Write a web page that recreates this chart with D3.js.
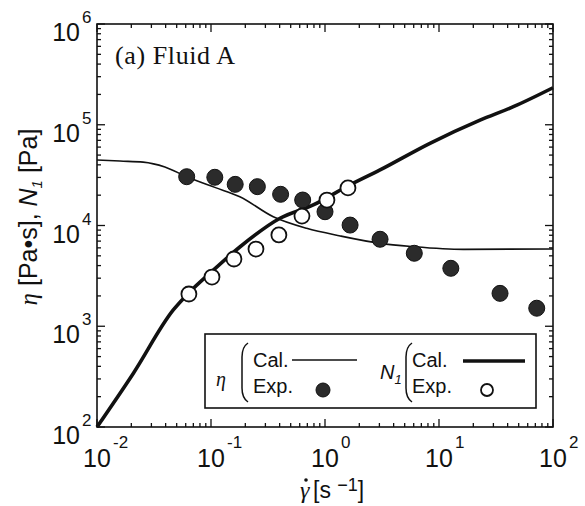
<!DOCTYPE html>
<html>
<head>
<meta charset="utf-8">
<script src="https://cdn.jsdelivr.net/npm/d3@7/dist/d3.min.js"></script>
<style>
  body { margin: 0; background: #fff; }
  svg { display: block; font-family: "Liberation Sans", Arial, sans-serif; }
</style>
</head>
<body>
<svg id="chart"></svg>
<script>
// shear rate [1/s] and values
const etaCalX = [0.01, 0.0159, 0.0254, 0.0394, 0.0612, 0.108, 0.179, 0.352, 0.69, 1.36, 3.04, 5.96, 16.3, 100];
const etaCalY = [44700, 43600, 42600, 38100, 30500, 23900, 19300, 12200, 9370, 7870, 6650, 6170, 5800, 5850];

const n1CalX = [0.01, 0.0208, 0.0467, 0.0654, 0.098, 0.179, 0.403, 0.789, 1.55, 3.04, 8.33, 22.9, 44.9, 100];
const n1CalY = [100, 340, 1450, 2200, 3360, 6120, 11800, 16000, 24300, 35600, 65400, 111000, 151000, 233000];

const etaExpX = [0.0612, 0.108, 0.163, 0.255, 0.408, 0.637, 1.0, 1.66, 3.04, 6.07, 12.7, 34.3, 72];
const etaExpY = [30500, 30100, 25600, 24300, 20400, 17900, 13700, 10100, 7300, 5300, 3760, 2120, 1510];

const n1ExpX = [0.064, 0.102, 0.159, 0.248, 0.394, 0.628, 1.04, 1.59];
const n1ExpY = [2090, 3080, 4650, 5840, 8060, 12400, 17900, 23600];

const xTickExp = [-2, -1, 0, 1, 2];
const yTickExp = [2, 3, 4, 5, 6];

const width = 585, height = 506;
const margin = { left: 97, top: 24, right: 32, bottom: 79 };

const svg = d3.select("#chart").attr("width", width).attr("height", height);

const x = d3.scaleLog().domain([0.01, 100]).range([margin.left, width - margin.right]);
const y = d3.scaleLog().domain([100, 1e6]).range([height - margin.bottom, margin.top]);

const x0 = x.range()[0], x1 = x.range()[1];
const y0 = y.range()[0], y1 = y.range()[1];

// frame
svg.append("rect")
    .attr("x", x0).attr("y", y1)
    .attr("width", x1 - x0).attr("height", y0 - y1)
    .attr("fill", "none").attr("stroke", "#111").attr("stroke-width", 1.6);

// ticks on all four sides, pointing in
const isMajor = v => Math.abs(Math.log10(v) - Math.round(Math.log10(v))) < 1e-6;
const ticks = svg.append("g").attr("stroke", "#111").attr("stroke-width", 1.3);

x.ticks().forEach(v => {
    const len = isMajor(v) ? 8 : 4;
    ticks.append("line").attr("x1", x(v)).attr("x2", x(v)).attr("y1", y0).attr("y2", y0 - len);
    ticks.append("line").attr("x1", x(v)).attr("x2", x(v)).attr("y1", y1).attr("y2", y1 + len);
});
y.ticks().forEach(v => {
    const len = isMajor(v) ? 8 : 4;
    ticks.append("line").attr("y1", y(v)).attr("y2", y(v)).attr("x1", x0).attr("x2", x0 + len);
    ticks.append("line").attr("y1", y(v)).attr("y2", y(v)).attr("x1", x1).attr("x2", x1 - len);
});

// tick labels
yTickExp.forEach(e => {
    svg.append("text").attr("x", 80).attr("y", y(Math.pow(10, e)) + 17)
        .attr("text-anchor", "end").attr("font-size", 25).attr("fill", "#111").text("10");
    svg.append("text").attr("x", 82).attr("y", y(Math.pow(10, e)) - 1)
        .attr("font-size", 17).attr("fill", "#111").text(e);
});
xTickExp.forEach(e => {
    const px = x(Math.pow(10, e));
    svg.append("text").attr("x", px).attr("y", 467)
        .attr("text-anchor", "middle").attr("font-size", 25).attr("fill", "#111").text("10");
    svg.append("text").attr("x", px + 16).attr("y", 448)
        .attr("font-size", 17).attr("fill", "#111").text(e < 0 ? "-" + (-e) : e);
});

// axis titles
const yTitle = svg.append("text")
    .attr("transform", "translate(37,217) rotate(-90)")
    .attr("text-anchor", "middle").attr("font-size", 25).attr("fill", "#111");
yTitle.append("tspan").attr("font-family", "Liberation Serif, serif").attr("font-style", "italic").text("η");
yTitle.append("tspan").text(" [Pa•s], ");
yTitle.append("tspan").attr("font-style", "italic").text("N");
yTitle.append("tspan").attr("font-style", "italic").attr("font-size", 15).attr("dy", 5).text("1");
yTitle.append("tspan").attr("dy", -5).text(" [Pa]");

svg.append("text").attr("x", 300).attr("y", 498)
    .attr("font-family", "Liberation Serif, serif").attr("font-style", "italic")
    .attr("font-size", 24).attr("fill", "#111").text("γ");
svg.append("circle").attr("cx", 306).attr("cy", 480).attr("r", 1.8).attr("fill", "#111");
const xTitle = svg.append("text").attr("x", 313).attr("y", 498)
    .attr("font-size", 23).attr("fill", "#111");
xTitle.append("tspan").text("[s ");
xTitle.append("tspan").attr("font-size", 18).attr("dy", -7).text("−1");
xTitle.append("tspan").attr("dy", 7).text("]");

svg.append("text").attr("x", 115).attr("y", 64)
    .attr("font-family", "Liberation Serif, serif").attr("font-size", 26)
    .attr("letter-spacing", 0.6).attr("fill", "#111")
    .text("(a) Fluid A");

// calculated curves
const line = d3.line().x(d => x(d[0])).y(d => y(d[1])).curve(d3.curveMonotoneX);

svg.append("path")
    .datum(d3.zip(etaCalX, etaCalY))
    .attr("d", line).attr("fill", "none").attr("stroke", "#111").attr("stroke-width", 1.6);

svg.append("path")
    .datum(d3.zip(n1CalX, n1CalY))
    .attr("d", line).attr("fill", "none").attr("stroke", "#111").attr("stroke-width", 3.6);

// experimental points
svg.append("g").selectAll("circle")
    .data(d3.zip(etaExpX, etaExpY))
    .join("circle")
    .attr("cx", d => x(d[0])).attr("cy", d => y(d[1])).attr("r", 8)
    .attr("fill", "#2b2b2b").attr("stroke", "#111").attr("stroke-width", 1);

svg.append("g").selectAll("circle")
    .data(d3.zip(n1ExpX, n1ExpY))
    .join("circle")
    .attr("cx", d => x(d[0])).attr("cy", d => y(d[1])).attr("r", 7.5)
    .attr("fill", "#fff").attr("stroke", "#111").attr("stroke-width", 1.8);

// legend
const lg = svg.append("g");
lg.append("rect").attr("x", 205).attr("y", 334).attr("width", 331).attr("height", 74)
    .attr("fill", "#fff").attr("stroke", "#111").attr("stroke-width", 1.6);

const brace = (bx, top, bot) =>
    `M${bx + 6},${top} Q${bx},${top + 4} ${bx},${top + 14} L${bx},${bot - 14} Q${bx},${bot - 4} ${bx + 6},${bot}`;

lg.append("text").attr("x", 216).attr("y", 386)
    .attr("font-family", "Liberation Serif, serif").attr("font-style", "italic")
    .attr("font-size", 20).attr("fill", "#111").text("η");
lg.append("path").attr("d", brace(242, 343, 402)).attr("fill", "none").attr("stroke", "#111").attr("stroke-width", 1.5);
lg.append("text").attr("x", 253).attr("y", 367).attr("font-size", 20).attr("fill", "#111").text("Cal.");
lg.append("text").attr("x", 253).attr("y", 393).attr("font-size", 20).attr("fill", "#111").text("Exp.");
lg.append("line").attr("x1", 292).attr("x2", 357).attr("y1", 360).attr("y2", 360)
    .attr("stroke", "#111").attr("stroke-width", 1.6);
lg.append("circle").attr("cx", 323).attr("cy", 390).attr("r", 7)
    .attr("fill", "#2b2b2b").attr("stroke", "#111");

const n1Label = lg.append("text").attr("x", 380).attr("y", 379)
    .attr("font-size", 20).attr("font-style", "italic").attr("fill", "#111");
n1Label.append("tspan").text("N");
n1Label.append("tspan").attr("font-size", 13).attr("dy", 5).text("1");
lg.append("path").attr("d", brace(406, 343, 402)).attr("fill", "none").attr("stroke", "#111").attr("stroke-width", 1.5);
lg.append("text").attr("x", 412).attr("y", 367).attr("font-size", 20).attr("fill", "#111").text("Cal.");
lg.append("text").attr("x", 412).attr("y", 393).attr("font-size", 20).attr("fill", "#111").text("Exp.");
lg.append("line").attr("x1", 463).attr("x2", 525).attr("y1", 361).attr("y2", 361)
    .attr("stroke", "#111").attr("stroke-width", 3.4);
lg.append("circle").attr("cx", 487).attr("cy", 390).attr("r", 6)
    .attr("fill", "#fff").attr("stroke", "#111").attr("stroke-width", 1.8);
</script>
</body>
</html>
